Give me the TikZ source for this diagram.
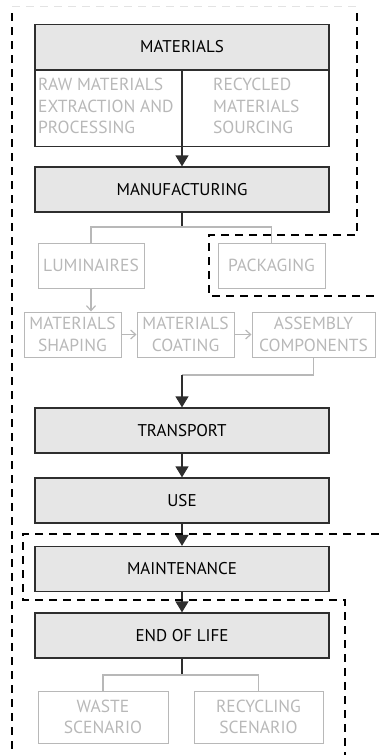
\documentclass[tikz,border=0pt]{standalone}
\usepackage{fontspec}
\setmainfont{PT Sans}
\usetikzlibrary{arrows.meta,positioning}
\tikzset{>=latex}
\definecolor{stagefill}{HTML}{E6E6E6}
\definecolor{subgray}{HTML}{B8B8B8}
\definecolor{framedark}{HTML}{2E2E2E}

\tikzset{
  stage/.style={draw=framedark, fill=stagefill, line width=1.3pt, minimum width=294pt, minimum height=45pt, inner sep=0pt, font=\fontsize{17}{20}\selectfont},
  subbox/.style={draw=subgray, text=subgray, line width=1pt, minimum height=45pt, inner sep=0pt, align=center, font=\fontsize{17.5}{21.5}\selectfont},
  subtext/.style={text=subgray, align=left, inner sep=0pt, font=\fontsize{17.5}{21.5}\selectfont},
  flow/.style={draw=framedark, line width=1.3pt, -{Triangle[width=13pt,length=11pt]}},
  link/.style={draw=framedark, line width=1.3pt},
  branch/.style={draw=subgray, line width=1.2pt},
  subflow/.style={draw=subgray, line width=1.2pt, -{Straight Barb[width=9pt,length=5pt]}},
  boundary/.style={draw=black, line width=1.3pt, dash pattern=on 8pt off 6pt}
}

\begin{document}
\begin{tikzpicture}[x=1pt, y=-1pt]
  \useasboundingbox (0,0) rectangle (379,755);

  % materials stage with its two sources
  \node[stage] (materials) at (182,47) {MATERIALS};
  \node[draw=framedark, line width=1.3pt, minimum width=294pt, minimum height=76pt, inner sep=0pt, below=0pt of materials] (sources) {};
  \node[subtext, anchor=west] (raw) at (38,106) {RAW MATERIALS\\EXTRACTION AND\\PROCESSING};
  \node[subtext, anchor=west] (recycled) at (213,106) {RECYCLED\\MATERIALS\\SOURCING};

  \node[stage] (manufacturing) at (182,189.5) {MANUFACTURING};
  \draw[flow] (sources.north) -- (manufacturing.north);

  % manufacturing split
  \node[subbox, minimum width=106pt] (luminaires) at (91,265.5) {LUMINAIRES};
  \node[subbox, minimum width=107pt] (packaging) at (271.5,265.5) {PACKAGING};
  \coordinate (mansplit) at (182,227);
  \draw[link] (manufacturing.south) -- (mansplit);
  \draw[branch] (luminaires.north) |- (mansplit) -| (packaging.north);

  \node[subbox, minimum width=97pt] (shaping) at (72.5,334.5) {MATERIALS\\SHAPING};
  \node[subbox, minimum width=97pt] (coating) at (185.5,334.5) {MATERIALS\\COATING};
  \node[subbox, minimum width=123pt] (assembly) at (313.5,334.5) {ASSEMBLY\\COMPONENTS};
  \draw[subflow] (luminaires.south) -- (luminaires.south |- shaping.north);
  \draw[subflow] (shaping.east) -- (coating.west);
  \draw[subflow] (coating.east) -- (assembly.west);

  % main flow
  \node[stage] (transport) at (182,430.5) {TRANSPORT};
  \node[stage] (use) at (182,500.5) {USE};
  \node[stage] (maintenance) at (182,569) {MAINTENANCE};
  \node[stage] (endoflife) at (182,635.5) {END OF LIFE};

  \coordinate (asmjoin) at (182,375);
  \draw[branch] (assembly.south) |- (asmjoin);
  \draw[flow] (asmjoin) -- (transport.north);
  \draw[flow] (transport) -- (use);
  \draw[flow] (use) -- (maintenance);
  \draw[flow] (maintenance) -- (endoflife);

  % end of life split
  \node[subbox, minimum width=130pt, minimum height=52pt] (waste) at (103,717) {WASTE\\SCENARIO};
  \node[subbox, minimum width=129pt, minimum height=52pt] (recycling) at (258.5,717) {RECYCLING\\SCENARIO};
  \coordinate (eolsplit) at (182,675);
  \draw[link] (endoflife.south) -- (eolsplit);
  \draw[branch] (waste.north) |- (eolsplit) -| (recycling.north);

  % system boundaries
  \draw[draw=subgray!40, line width=0.8pt, dash pattern=on 8pt off 6pt] (12,6) -- (357,6);
  \draw[boundary] (12,13) -- (12,755);
  \draw[boundary] (357,13) -- (357,235) -- (209,235) -- (209,296) -- (379,296);
  \draw[boundary] (379,534) -- (23,534) -- (23,600) -- (345,600) -- (345,755);
\end{tikzpicture}
\end{document}
